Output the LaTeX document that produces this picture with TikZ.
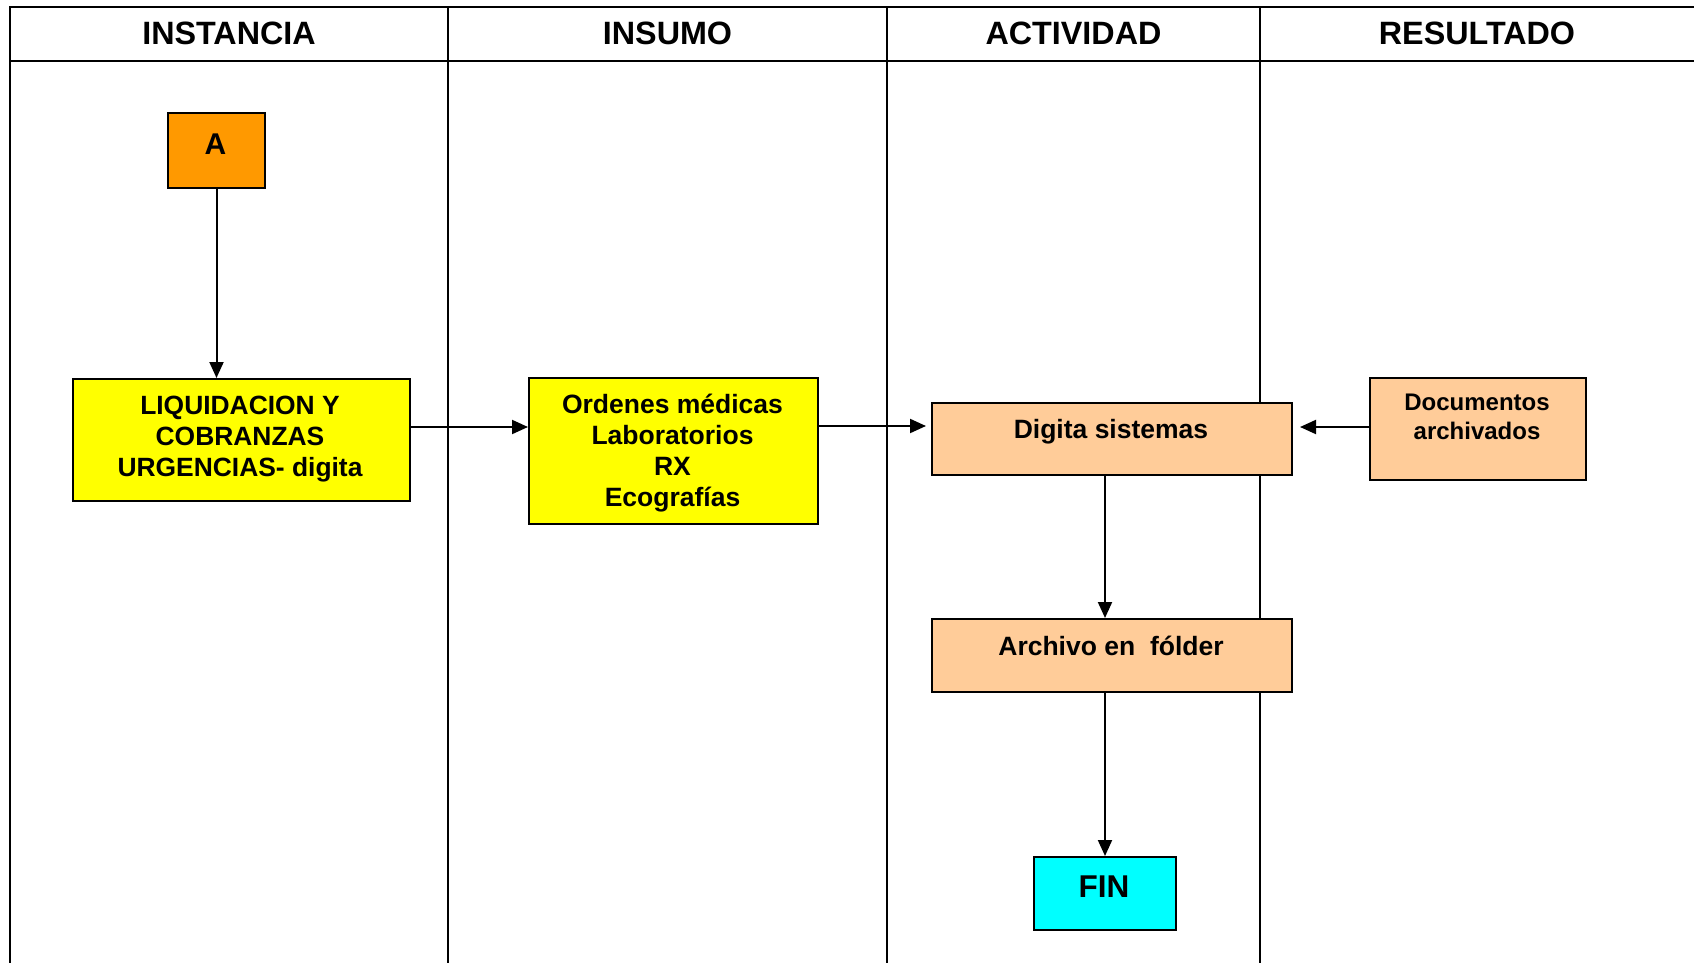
\documentclass[tikz,border=0pt]{standalone}
\usepackage{fontspec}
\setmainfont{Liberation Sans}
\usetikzlibrary{arrows.meta,calc}
\definecolor{startorange}{HTML}{FF9900}
\definecolor{boxyellow}{HTML}{FFFF00}
\definecolor{boxpeach}{HTML}{FFCC99}
\definecolor{endcyan}{HTML}{00FFFF}
\begin{document}
\begin{tikzpicture}[x=1pt,y=-1pt,
  frame/.style={line width=2pt},
  box/.style={draw, line width=2pt, inner sep=0pt, anchor=north west},
  txt/.style={font=\bfseries, align=center, inner sep=0pt},
  head/.style={font=\bfseries\fontsize{32.3}{36}\selectfont, inner sep=0pt},
  arr/.style={line width=2pt, -{Triangle[length=16pt,width=14pt]}}
]
\useasboundingbox (0,0) rectangle (1694,963);

% swimlane table
\draw[frame] (1694,7) -- (10,7) -- (10,963);
\draw[frame] (10,61) -- (1694,61);
\draw[frame] (448,7) -- (448,963);
\draw[frame] (887,7) -- (887,963);
\draw[frame] (1260,7) -- (1260,963);

\node[head] (hinst) at (229,33.5) {INSTANCIA};
\node[head] (hins) at (667.5,33.5) {INSUMO};
\node[head] (hact) at (1073.5,33.5) {ACTIVIDAD};
\node[head] (hres) at (1477,33.5) {RESULTADO};

% process boxes
\node[box, fill=startorange, minimum width=97pt, minimum height=75pt] (a) at (167,112) {};
\node[txt, font=\bfseries\fontsize{30}{36}\selectfont] (ta) at (215.5,144) {A};

\node[box, fill=boxyellow, minimum width=337pt, minimum height=122pt] (liq) at (72,378) {};
\node[txt, font=\bfseries\fontsize{26.4}{31.3}\selectfont] (tliq) at (240,439)
  {LIQUIDACION Y\\COBRANZAS\\URGENCIAS- digita};

\node[box, fill=boxyellow, minimum width=289pt, minimum height=146pt] (ord) at (528,377) {};
\node[txt, font=\bfseries\fontsize{26.5}{31}\selectfont] (tord) at (672.5,453)
  {Ordenes médicas\\Laboratorios\\RX\\Ecografías};

\node[box, fill=boxpeach, minimum width=360pt, minimum height=72pt] (dig) at (931,402) {};
\node[txt, font=\bfseries\fontsize{26.5}{31}\selectfont] (tdig) at (1111,432) {Digita sistemas};

\node[box, fill=boxpeach, minimum width=216pt, minimum height=102pt] (doc) at (1369,377) {};
\node[txt, font=\bfseries\fontsize{24}{29}\selectfont] (tdoc) at (1477,417)
  {Documentos\\archivados};

\node[box, fill=boxpeach, minimum width=360pt, minimum height=73pt] (arc) at (931,618) {};
\node[txt, font=\bfseries\fontsize{26.5}{31}\selectfont] (tarc) at (1111,646) {Archivo en \ fólder};

\node[box, fill=endcyan, minimum width=142pt, minimum height=73pt] (fin) at (1033,856) {};
\node[txt, font=\bfseries\fontsize{31.5}{36}\selectfont] (tfin) at (1104,887) {FIN};

% connectors
\draw[arr] (a.south) -- (a.south |- liq.north);
\draw[arr] ([yshift=13pt]liq.east) -- ([yshift=13pt]liq.east -| ord.west);
\draw[arr, shorten >=5pt] ([yshift=25pt]ord.east) -- ([yshift=25pt]ord.east -| dig.west);
\draw[arr, shorten >=7pt] ([yshift=2pt]doc.west) -- ([yshift=2pt]doc.west -| dig.east);
\draw[arr] ([xshift=-7pt]dig.south) -- ([xshift=-7pt]dig.south |- arc.north);
\draw[arr] (arc.south -| fin.north) -- (fin.north);
\end{tikzpicture}
\end{document}
